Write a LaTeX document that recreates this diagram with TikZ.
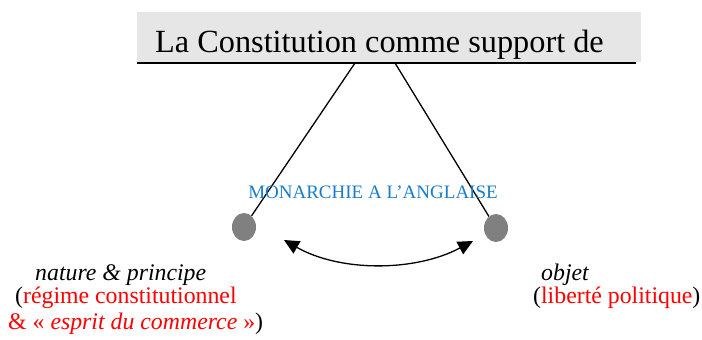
\documentclass[tikz,border=0pt]{standalone}
\usepackage{fontspec}
\setmainfont{Liberation Serif}
\usetikzlibrary{arrows.meta}
\definecolor{boxgrey}{HTML}{E6E6E6}
\definecolor{dotgrey}{HTML}{808080}
\definecolor{monblue}{HTML}{1A7CC9}
\definecolor{myred}{HTML}{FF0000}
\tikzset{
  dot/.style={ellipse, fill=dotgrey, minimum width=24pt, minimum height=28pt, inner sep=0pt},
  lbl/.style={inner sep=0pt, anchor=base west, font=\fontsize{23.8}{27}\selectfont},
  conn/.style={line width=1.3pt, black}
}
\usetikzlibrary{shapes.geometric}
\begin{document}
\begin{tikzpicture}[x=1pt,y=-1pt]
\useasboundingbox (0,0) rectangle (702,340);
\node[fill=boxgrey, minimum width=504pt, minimum height=50pt, inner sep=0pt, anchor=north west] (title) at (137,12) {};
\node[inner sep=0pt, anchor=base west, font=\fontsize{32.3}{38}\selectfont] (ttext) at (155,52) {La Constitution comme support de};
\coordinate (ulL) at (137,63);
\coordinate (ulR) at (636,63);
\draw[line width=2pt] (ulL) -- (ulR);
\coordinate (tA) at (355,63);
\coordinate (tB) at (395,63);
\node[dot] (dl) at (244,227) {};
\node[dot] (dr) at (496,228) {};
\draw[conn] (tA) -- (dl);
\draw[conn] (tB) -- (dr);
\node[inner sep=0pt, anchor=base, text=monblue, font=\fontsize{19}{22}\selectfont] (mon) at (373,198) {MONARCHIE A L’ANGLAISE};
\coordinate (aL) at (284,240);
\coordinate (aR) at (473,241);
\draw[conn, {Triangle[length=15pt,width=14pt]}-{Triangle[length=15pt,width=14pt]}] (aL) .. controls (340,272) and (415,272) .. (aR);
\node[lbl] (np) at (35,280) {\itshape nature \& principe};
\node[lbl] (rc) at (15,303) {(\textcolor{myred}{régime constitutionnel}};
\node[lbl] (ec) at (8,329) {\textcolor{myred}{\& « \textit{esprit du commerce} »})};
\node[lbl] (ob) at (541,280) {\itshape objet};
\node[lbl] (lp) at (533,303) {(\textcolor{myred}{liberté politique})};
\end{tikzpicture}
\end{document}
